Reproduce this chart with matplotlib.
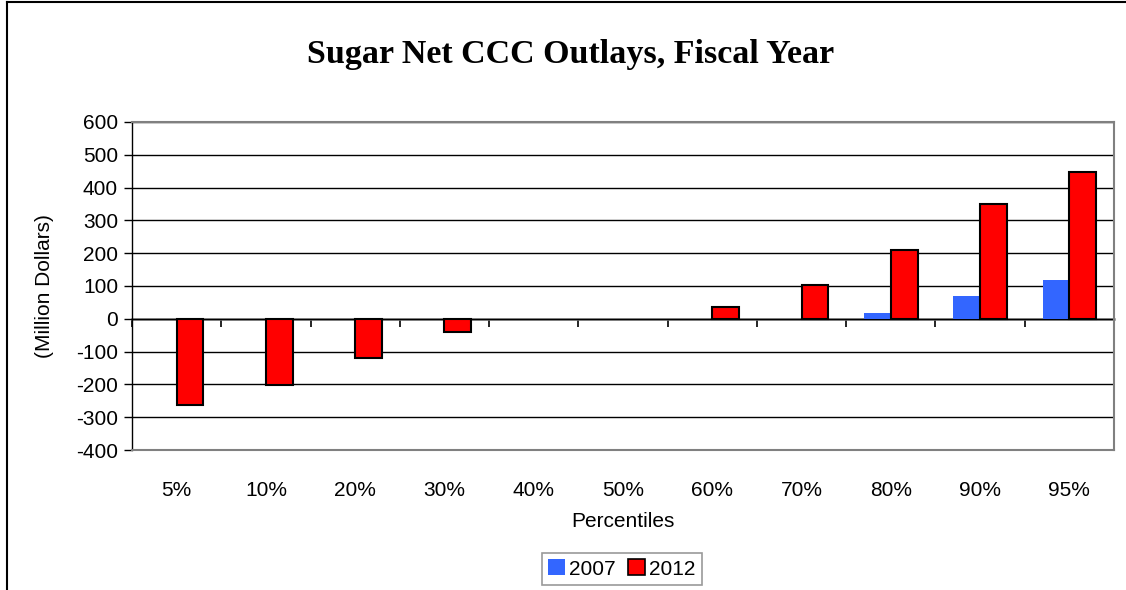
import matplotlib
matplotlib.use("Agg")
import matplotlib.pyplot as plt
import numpy as np
from matplotlib.patches import Patch
from matplotlib.lines import Line2D

categories = ["5%", "10%", "20%", "30%", "40%", "50%", "60%", "70%", "80%", "90%", "95%"]
vals_2007 = [0, 0, 0, 0, 0, 0, 0, 0, 19, 68, 118]
vals_2012 = [-264, -203, -120, -39, 0, 0, 37, 103, 211, 350, 449]
yticks = list(range(-400, 601, 100))

plt.rcParams['font.family'] = ['Liberation Sans', 'DejaVu Sans']

fig = plt.figure(figsize=(11.26, 5.90), dpi=100)
ax = fig.add_axes([132/1126, 1 - 450/590, 982/1126, 328/590])

x = np.arange(len(categories))
w = 0.30
ax.bar(x - w/2, vals_2007, width=w, color="#3366FF", edgecolor="none", zorder=3)
lw12 = [1.5 if v != 0 else 0 for v in vals_2012]
ax.bar(x + w/2, vals_2012, width=w, color="#FF0000", edgecolor="black", linewidth=lw12, zorder=3)

ax.set_xlim(-0.5, len(categories) - 0.5)
ax.set_ylim(-400, 600)
ax.set_yticks(yticks)
ax.set_yticklabels([str(v) for v in yticks], fontsize=15)
ax.yaxis.grid(True, color="black", linewidth=1)
ax.set_axisbelow(True)
ax.tick_params(axis="y", length=6, width=1, color="black", pad=4)

ax.set_xticks(x)
ax.set_xticklabels(categories, fontsize=15)
ax.tick_params(axis="x", length=0, pad=22)

for s in ["top", "right", "bottom"]:
    ax.spines[s].set_color("#808080")
    ax.spines[s].set_linewidth(1.5)
ax.spines["left"].set_color("black")
ax.spines["left"].set_linewidth(1)

# zero-line category axis with boundary ticks
sec = ax.secondary_xaxis(0.4)
sec.set_xticks(np.arange(len(categories) + 1) - 0.5)
sec.set_xticklabels([])
sec.tick_params(axis="x", length=6, width=1.2, color="black", direction="out")
sec.spines["bottom"].set_color("#808080")
sec.spines["bottom"].set_linewidth(1.8)

ax.set_xlabel("Percentiles", fontsize=15, labelpad=9)
ax.set_ylabel("(Million Dollars)", fontsize=15, labelpad=16)

fig.text(0.507, 1 - 54/590, "Sugar Net CCC Outlays, Fiscal Year", ha="center", va="center",
         fontsize=24.5, fontweight="bold", family=["Liberation Serif", "DejaVu Serif"])

handles = [Patch(facecolor="#3366FF", edgecolor="none"),
           Patch(facecolor="#FF0000", edgecolor="black", linewidth=1.2)]
leg = fig.legend(handles, ["2007", "2012"], loc="center", bbox_to_anchor=(622/1126, 1 - 569/590),
                 ncol=2, fontsize=15, frameon=True, fancybox=False, handlelength=0.8,
                 handleheight=0.8, handletextpad=0.2, columnspacing=0.6, borderpad=0.3,
                 borderaxespad=0)
leg.get_frame().set_edgecolor("#808080")
leg.get_frame().set_linewidth(1.2)

# outer chart border (left and top)
fig.add_artist(Line2D([7/1126, 7/1126], [0, 1 - 2/590], transform=fig.transFigure, color="black", linewidth=1.5))
fig.add_artist(Line2D([7/1126, 1], [1 - 2/590, 1 - 2/590], transform=fig.transFigure, color="black", linewidth=1.5))

fig.savefig("out.png", dpi=100)
